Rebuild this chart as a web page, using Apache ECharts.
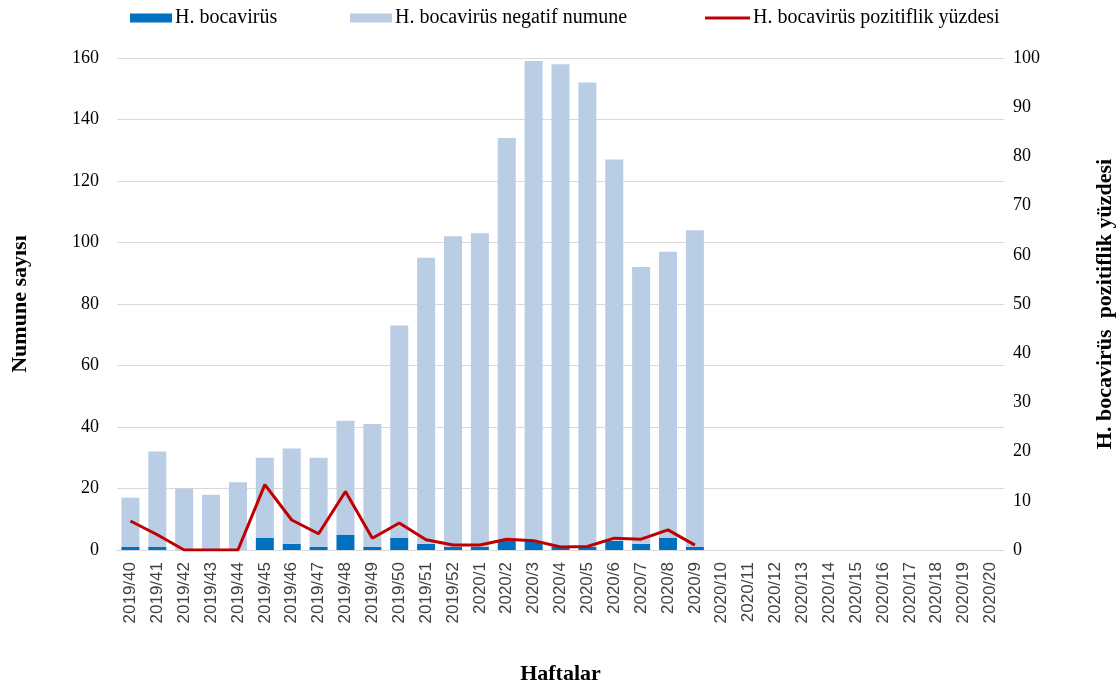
<!DOCTYPE html>
<html>
<head>
<meta charset="utf-8">
<script src="https://cdn.jsdelivr.net/npm/echarts@6/dist/echarts.min.js"></script>
<style>
  html, body { margin: 0; padding: 0; background: #fff; }
  #chart { width: 1117px; height: 689px; }
</style>
</head>
<body>
<div id="chart"></div>
<script>
// Weekly sample counts and positivity rate for H. bocavirüs
const weeks = [
  '2019/40','2019/41','2019/42','2019/43','2019/44','2019/45','2019/46','2019/47',
  '2019/48','2019/49','2019/50','2019/51','2019/52','2020/1','2020/2','2020/3',
  '2020/4','2020/5','2020/6','2020/7','2020/8','2020/9','2020/10','2020/11',
  '2020/12','2020/13','2020/14','2020/15','2020/16','2020/17','2020/18','2020/19','2020/20'
];
const positive = [1, 1, 0, 0, 0, 4, 2, 1, 5, 1, 4, 2, 1, 1, 3, 3, 1, 1, 3, 2, 4, 1];
const negative = [16, 31, 20, 18, 22, 26, 31, 29, 37, 40, 69, 93, 101, 102, 131, 156, 157, 151, 124, 90, 93, 103];
const positivityPct = [5.9, 3.1, 0, 0, 0, 13.3, 6.1, 3.3, 11.9, 2.4, 5.5, 2.1, 1.0, 1.0, 2.2, 1.9, 0.6, 0.7, 2.4, 2.2, 4.1, 1.0];

const leftTicks = { min: 0, max: 160, interval: 20 };
const rightTicks = { min: 0, max: 100, interval: 10 };

const NAME_POS = 'H. bocavirüs';
const NAME_NEG = 'H. bocavirüs negatif numune';
const NAME_PCT = 'H. bocavirüs pozitiflik yüzdesi';

const serif = '"Liberation Serif", "Times New Roman", serif';
const sans = '"Liberation Sans", Arial, sans-serif';
const axisNameStyle = { fontFamily: serif, fontSize: 22, fontWeight: 'bold', color: '#000' };

const legendBase = {
  top: 3,
  itemWidth: 42,
  itemHeight: 9,
  textStyle: { fontFamily: serif, fontSize: 20, color: '#000', padding: [0, 0, 0, -2] },
  itemGap: 4
};

const chart = echarts.init(document.getElementById('chart'));
chart.setOption({
  animation: false,
  grid: { left: 117, right: 113, top: 58, bottom: 139, containLabel: false, outerBoundsMode: 'none' },
  legend: [
    Object.assign({}, legendBase, { left: 125, data: [{ name: NAME_POS, icon: 'rect' }] }),
    Object.assign({}, legendBase, { left: 345, data: [{ name: NAME_NEG, icon: 'rect' }] }),
    Object.assign({}, legendBase, {
      left: 700, itemHeight: 3, itemWidth: 45,
      data: [{ name: NAME_PCT, icon: 'rect', itemStyle: { color: '#C00000' } }]
    })
  ],
  xAxis: {
    type: 'category',
    data: weeks,
    name: 'Haftalar',
    nameLocation: 'middle',
    nameGap: 113,
    nameTextStyle: axisNameStyle,
    axisLine: { lineStyle: { color: '#d9d9d9', width: 1 } },
    axisTick: { show: false },
    axisLabel: { rotate: 90, interval: 0, margin: 12, fontFamily: sans, fontSize: 17, color: '#404040' }
  },
  yAxis: [
    {
      type: 'value',
      min: leftTicks.min, max: leftTicks.max, interval: leftTicks.interval,
      name: 'Numune sayısı',
      nameLocation: 'middle',
      nameGap: 86,
      nameRotate: 90,
      nameTextStyle: axisNameStyle,
      axisLine: { show: false },
      axisTick: { show: false },
      axisLabel: { margin: 18, fontFamily: serif, fontSize: 18, color: '#000' },
      splitLine: { lineStyle: { color: '#d9d9d9', width: 1 } }
    },
    {
      type: 'value',
      min: rightTicks.min, max: rightTicks.max, interval: rightTicks.interval,
      name: 'H. bocavirüs  pozitiflik yüzdesi',
      nameLocation: 'middle',
      nameGap: 90,
      nameRotate: 90,
      nameTextStyle: axisNameStyle,
      axisLine: { show: false },
      axisTick: { show: false },
      axisLabel: { margin: 9, fontFamily: serif, fontSize: 18, color: '#000' },
      splitLine: { show: false }
    }
  ],
  series: [
    {
      name: NAME_POS,
      type: 'bar',
      stack: 'total',
      data: positive,
      barWidth: 18,
      itemStyle: { color: '#0070C0' }
    },
    {
      name: NAME_NEG,
      type: 'bar',
      stack: 'total',
      data: negative,
      barWidth: 18,
      itemStyle: { color: '#B9CDE5' }
    },
    {
      name: NAME_PCT,
      type: 'line',
      yAxisIndex: 1,
      data: positivityPct,
      symbol: 'none',
      lineStyle: { color: '#C00000', width: 3 },
      itemStyle: { color: '#C00000' },
      z: 5
    }
  ]
});
</script>
</body>
</html>
